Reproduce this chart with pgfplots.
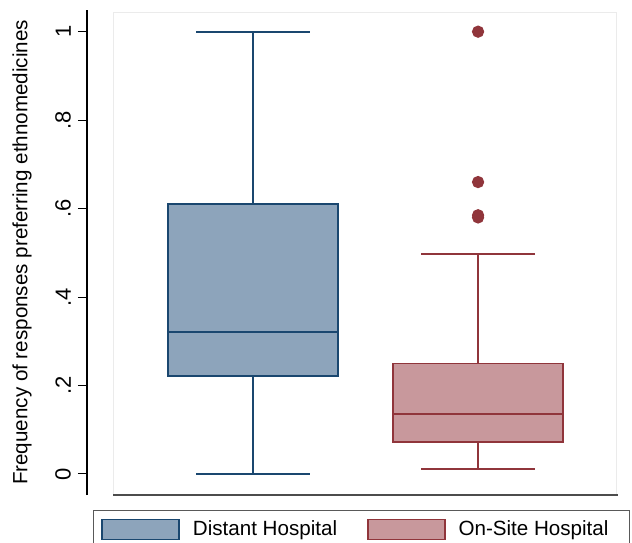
\documentclass[border=0pt]{standalone}
\usepackage{pgfplots}
\pgfplotsset{compat=1.18}
\usepgfplotslibrary{statistics}
\usepackage{fontspec}
\setmainfont{Liberation Sans}
\definecolor{snavy}{RGB}{26,71,111}
\definecolor{snavyfill}{RGB}{141,164,187}
\definecolor{smaroon}{RGB}{144,53,59}
\definecolor{smaroonfill}{RGB}{200,152,156}
\pgfplotsset{swatch legend/.style={legend image code/.code={\draw[##1] (0pt,-5pt) rectangle (38.5pt,5pt);}}}
\begin{document}
\begin{tikzpicture}
\begin{axis}[
  at={(43.5pt,23.5pt)}, anchor=south west,
  scale only axis, width=264.5pt, height=242.5pt,
  xmin=0.262, xmax=2.613, ymin=-0.0475, ymax=1.049,
  clip=false,
  axis x line=none, axis y line=left,
  axis line style={-, black, line width=0.6pt},
  ytick={0,0.2,0.4,0.6,0.8,1}, yticklabels={0,.2,.4,.6,.8,1},
  tick align=outside, major tick length=4.5pt,
  tick style={black, line width=0.5pt},
  /pgf/number format/assume math mode=true,
  yticklabel style={rotate=90, anchor=south, font=\fontsize{11}{13}\selectfont},
  ylabel={Frequency of responses preferring ethnomedicines},
  every axis y label/.style={at={(axis description cs:-0.123,0.5)}, rotate=90, anchor=center, font=\fontsize{10.3}{12}\selectfont},
  boxplot/draw direction=y,
  legend style={at={(axis description cs:0.0113,-0.0309)}, anchor=north west,
    draw=black!65, line width=0.5pt, fill=white,
    inner xsep=4pt, inner ysep=3pt,
    font=\fontsize{10.3}{12}\selectfont,
    nodes={inner xsep=6.5pt},
    legend columns=2,
    /tikz/every even column/.append style={column sep=8.5pt}},
]
\draw[black!8, line width=0.4pt] (axis cs:0.378,-0.0475) rectangle (axis cs:2.613,1.0446);
\draw[black!70, line width=0.7pt] (axis cs:0.378,-0.0475) -- (axis cs:2.622,-0.0475);

\addplot+[forget plot, draw=snavy, fill=snavyfill, line width=0.9pt, solid,
  boxplot prepared={draw position=1, lower whisker=0, lower quartile=0.222,
    median=0.321, upper quartile=0.610, upper whisker=1.0,
    box extend=0.756, whisker extend=0.507}]
  coordinates {};

\addplot+[forget plot, draw=smaroon, fill=smaroonfill, line width=0.9pt, solid,
  mark=*, mark size=2.6pt, mark options={draw=smaroon, fill=smaroon, solid},
  boxplot prepared={draw position=2, lower whisker=0.012, lower quartile=0.073,
    median=0.136, upper quartile=0.250, upper whisker=0.497,
    box extend=0.756, whisker extend=0.507}]
  coordinates {(0,1.0) (0,0.66) (0,0.585) (0,0.580)};

\addlegendimage{draw=snavy, fill=snavyfill, line width=0.7pt, swatch legend}
\addlegendentry{Distant Hospital}
\addlegendimage{draw=smaroon, fill=smaroonfill, line width=0.7pt, swatch legend}
\addlegendentry{On-Site Hospital}
\end{axis}
\pgfresetboundingbox
\useasboundingbox (0,0) rectangle (316pt,271pt);
\end{tikzpicture}
\end{document}
